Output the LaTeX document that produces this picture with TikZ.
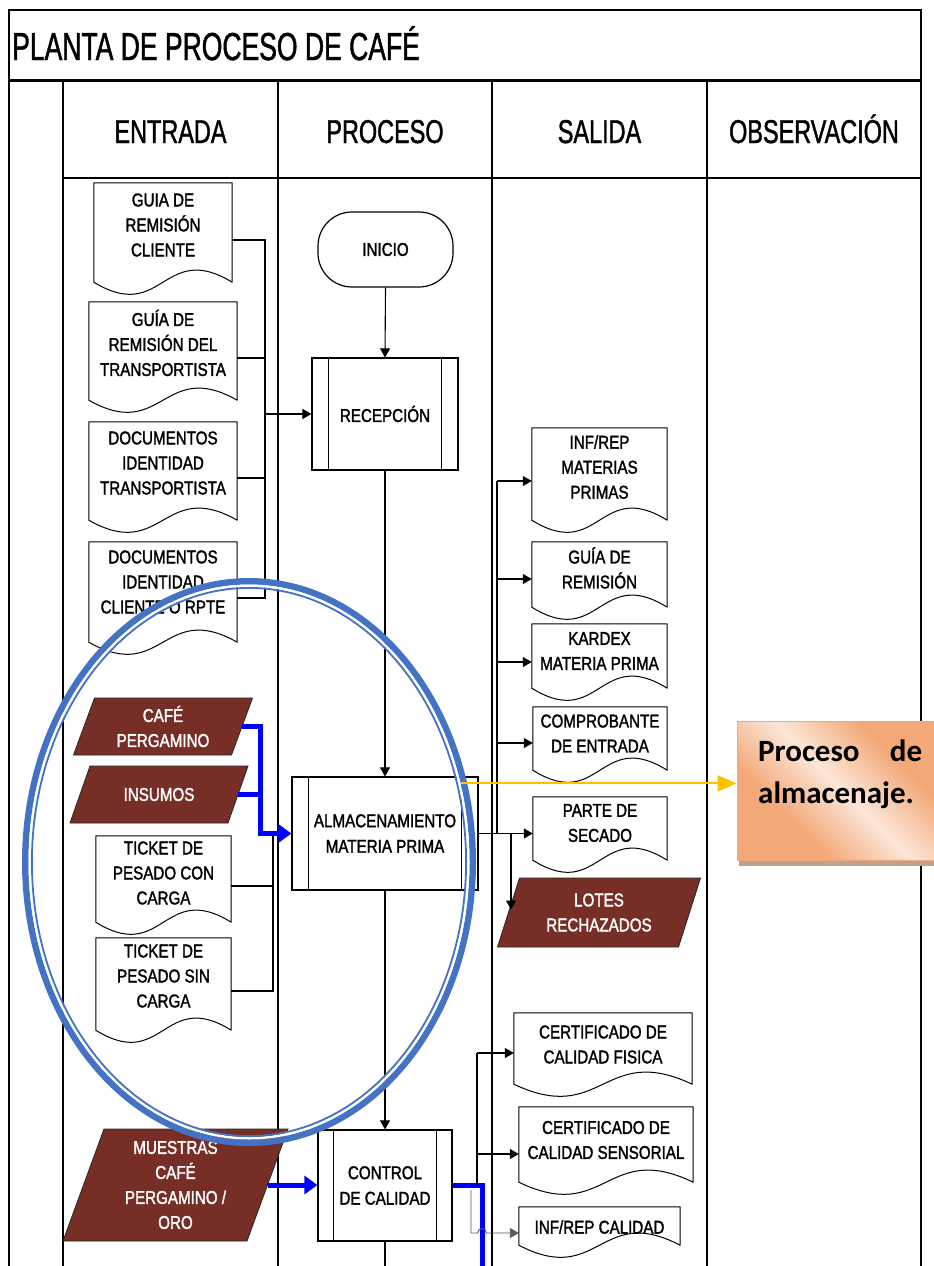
\documentclass[tikz,border=0pt]{standalone}
\usepackage{fontspec}
\setmainfont{Liberation Sans}
\newfontfamily\bodyfont{Liberation Sans}[FakeStretch=0.82,FakeBold=1.6]
\newfontfamily\headfont{Liberation Sans}[FakeStretch=0.71,FakeBold=1.2]
\newfontfamily\titlefont{Liberation Sans}[FakeStretch=0.68,FakeBold=1.2]
\newfontfamily\notefont{Carlito}
\usetikzlibrary{arrows.meta,calc,shadows}

\definecolor{paracol}{HTML}{772E26}
\definecolor{flowblue}{HTML}{0000FF}
\definecolor{ringblue}{HTML}{4472C4}
\definecolor{notegold}{HTML}{FFC000}
\definecolor{noteedge}{HTML}{F2A877}
\definecolor{notelight}{HTML}{FCE6D8}
\definecolor{noteshadow}{HTML}{BFA18E}

% diagonal fill of the note: orange corners, light band through the middle
\pgfdeclareverticalshading{notefill}{100bp}{color(0bp)=(noteedge); color(33bp)=(noteedge);
  color(50bp)=(notelight); color(67bp)=(noteedge); color(100bp)=(noteedge)}

\tikzset{
  tableline/.style={line width=1.2pt, draw=black},
  docline/.style={line width=1pt, draw=black, line join=round},
  docbody/.style={draw=none, inner sep=0pt},
  doctext/.style={font=\bodyfont\fontsize{18.5}{25}\selectfont, align=center, inner sep=0pt},
  parashape/.style={fill=paracol, draw=black!85, line width=0.8pt},
  paratext/.style={font=\bodyfont\fontsize{18.5}{25}\selectfont, text=white, align=center, inner sep=0pt},
  procbox/.style={draw=black, line width=1.2pt, inner sep=0pt, align=center,
                  font=\bodyfont\fontsize{18.5}{25.5}\selectfont},
  wire/.style={line width=1.1pt, draw=black},
  wirearrow/.style={wire, -{Triangle[length=9pt,width=10pt]}},
  blueline/.style={draw=flowblue, line width=5pt},
  bluearrow/.style={blueline, -{Triangle[length=13pt,width=18pt]}},
  goldarrow/.style={draw=notegold, line width=2pt, -{Triangle[length=19pt,width=16pt]}},
  hd/.style={anchor=base, inner sep=0pt, font=\headfont\fontsize{33}{36}\selectfont},
  notebox/.style={draw=noteedge, line width=1pt, shading=notefill, shading angle=-45,
                  drop shadow={shadow xshift=2pt, shadow yshift=-6pt, fill=noteshadow, opacity=1}},
  notetext/.style={font=\notefont\bfseries\fontsize{31}{42}\selectfont, text width=164pt,
                   align=justify, inner sep=0pt},
}

% document symbol: name, left x, top y, width, body height, text centre y, text
\newcommand\docnode[7]{%
  \node[docbody, minimum width=#4pt, minimum height=#5pt] (#1) at ({#2+#4/2},{#3+#5/2}) {};
  \draw[docline] (#1.south west) -- (#1.north west) -- (#1.north east) -- (#1.south east)
    .. controls ($(#1.south)+(0,-42)$) and ($(#1.south)+(0,42)$) .. (#1.south west) -- cycle;
  \node[doctext] (#1-t) at ({#2+#4/2},#6) {#7};
}
% data symbol (parallelogram): name, centre x, centre y, width, height, slant, text
\newcommand\paranode[7]{%
  \filldraw[parashape] ({#2-#4/2+#6/2},{#3-#5/2}) -- ({#2+#4/2+#6/2},{#3-#5/2})
    -- ({#2+#4/2-#6/2},{#3+#5/2}) -- ({#2-#4/2-#6/2},{#3+#5/2}) -- cycle;
  \node[paratext, minimum width=#4pt, minimum height=#5pt] (#1) at (#2,#3) {#7};
}
% predefined process box: name, centre x, centre y, width, height, side inset, text
\newcommand\procnode[7]{%
  \node[procbox, minimum width=#4pt, minimum height=#5pt] (#1) at (#2,#3) {#7};
  \draw[tableline] ([xshift=#6pt]#1.north west) -- ([xshift=#6pt]#1.south west);
  \draw[tableline] ([xshift=-#6pt]#1.north east) -- ([xshift=-#6pt]#1.south east);
}

\begin{document}
\begin{tikzpicture}[x=1pt,y=-1pt]
\useasboundingbox (0,0) rectangle (934,1266);
\clip (0,0) rectangle (934,1266);
\fill[white] (0,0) rectangle (934,1266);

% ---- table frame ----
\draw[tableline] (9,1266) -- (9,10) -- (921,10) -- (921,1266);
\draw[black, line width=3pt] (9,80) -- (921,80);
\foreach \cx in {63,278,492,707} \draw[tableline] (\cx,81) -- (\cx,1266);
\draw[tableline] (63,178) -- (921,178);

\node[anchor=base west, inner sep=0pt, font=\titlefont\fontsize{39}{42}\selectfont]
  (title) at (12,60) {PLANTA DE PROCESO DE CAFÉ};
\node[hd] (h-in)   at (170.5,143) {ENTRADA};
\node[hd] (h-proc) at (385,143)   {PROCESO};
\node[hd] (h-out)  at (599.5,143) {SALIDA};
\node[hd] (h-obs)  at (814,143)   {OBSERVACIÓN};

% ---- inputs ----
\docnode{g1}{94}{183}{138}{99}{225}{GUIA DE\\REMISIÓN\\CLIENTE}
\docnode{g2}{89}{302}{148}{98}{343}{GUÍA DE\\REMISIÓN DEL\\TRANSPORTISTA}
\docnode{g3}{89}{422}{148}{98}{463}{DOCUMENTOS\\IDENTIDAD\\TRANSPORTISTA}
\docnode{g4}{89}{542}{148}{100}{582}{DOCUMENTOS\\IDENTIDAD\\CLIENTE O RPTE}
\paranode{cafe}{163}{726.5}{158}{57}{21}{CAFÉ\\PERGAMINO}
\paranode{insumos}{159}{794.5}{158}{57}{20}{INSUMOS}
\docnode{t1}{96}{836}{135}{86}{873}{TICKET DE\\PESADO CON\\CARGA}
\docnode{t2}{96}{938}{135}{92}{976}{TICKET DE\\PESADO SIN\\CARGA}
\paranode{muestras}{175.5}{1185}{184}{112}{41}{MUESTRAS\\CAFÉ\\PERGAMINO /\\ORO}

% ---- process ----
\node[draw=black, line width=1.2pt, rounded corners=34pt, minimum width=135pt, minimum height=75pt,
      font=\bodyfont\fontsize{18.5}{25}\selectfont] (inicio) at (385.5,249.5) {INICIO};
\procnode{rec}{385}{414}{146}{112}{17}{RECEPCIÓN}
\procnode{alm}{385}{833.5}{186}{113}{17}{ALMACENAMIENTO\\MATERIA PRIMA}
\procnode{cc}{385}{1185.5}{134}{111}{16}{CONTROL\\DE CALIDAD}

% ---- outputs ----
\docnode{s1}{532}{428}{135}{92}{467}{INF/REP\\MATERIAS\\PRIMAS}
\docnode{s2}{532}{542}{135}{65}{568}{GUÍA DE\\REMISIÓN}
\docnode{s3}{532}{624}{135}{64}{651}{KARDEX\\MATERIA PRIMA}
\docnode{s4}{533}{707}{134}{63}{733.5}{COMPROBANTE\\DE ENTRADA}
\docnode{s5}{533}{797}{134}{63}{823}{PARTE DE\\SECADO}
\paranode{lotes}{599}{912.5}{181}{69}{22}{LOTES\\RECHAZADOS}
\docnode{c1}{514}{1013}{178}{71}{1044.5}{CERTIFICADO DE\\CALIDAD FISICA}
\docnode{c2}{519}{1107}{174}{75}{1140}{CERTIFICADO DE\\CALIDAD SENSORIAL}
\docnode{c3}{519}{1207}{161}{38}{1227}{INF/REP CALIDAD}

% ---- connectors: reception documents ----
\coordinate (busA) at (265,240);
\coordinate (busB) at (265,598);
\draw[wire] ([yshift=-7.5pt]g1.east) -- (busA) -- (busB) -- ([yshift=-6pt]g4.east);
\draw[wire] ([yshift=-7pt]g2.east) -- ([yshift=-7pt]g2.east -| busA);
\draw[wire] ([yshift=-7pt]g3.east) -- ([yshift=-7pt]g3.east -| busA);
\draw[wirearrow] (rec.west -| busA) -- (rec.west);

% ---- main flow ----
\coordinate (procEnd) at (385,1266);
\draw[wirearrow] (inicio.south) -- (rec.north);
\draw[wirearrow] (rec.south) -- (alm.north);
\draw[wirearrow] (alm.south) -- (cc.north);
\draw[wire] (cc.south) -- (procEnd);

% ---- storage inputs ----
\coordinate (busT) at (273,833.5);
\draw[wire] (busT) -- ([yshift=-7pt]t2.east -| busT) -- ([yshift=-7pt]t2.east);
\draw[wire] ([yshift=-7pt]t1.east) -- ([yshift=-7pt]t1.east -| busT);
\coordinate (bj) at (260,833.5);
\draw[blueline] (insumos.east) -- (insumos.east -| bj);
\draw[bluearrow, line join=miter] (cafe.east) -| (bj) -- (alm.west);

% ---- storage outputs ----
\coordinate (sb) at (497,833.5);
\draw[wire] ([yshift=-7pt]s1.west -| sb) -- (sb);
\draw[wirearrow] ([yshift=-7pt]s1.west -| sb) -- ([yshift=-7pt]s1.west);
\draw[wirearrow] ([yshift=-4.5pt]s2.west -| sb) -- ([yshift=-4.5pt]s2.west);
\draw[wirearrow] ([yshift=-6pt]s3.west -| sb) -- ([yshift=-6pt]s3.west);
\draw[wirearrow] ([yshift=-4.5pt]s4.west -| sb) -- ([yshift=-4.5pt]s4.west);
\draw[wirearrow] (alm.east) -- (alm.east -| s5.west);
\coordinate (lj) at (511,833.5);
\draw[wirearrow] (lj) -- ([yshift=3pt]lotes.west -| lj);

% ---- quality control ----
\draw[bluearrow] (muestras.east) -- (muestras.east -| cc.west);
\coordinate (bb) at (482,1266);
\draw[blueline, line join=miter] (cc.east) -| (bb);
\coordinate (cbus) at (477,1186);
\draw[wire] ([yshift=-4.5pt]c1.west -| cbus) -- (cbus);
\draw[wirearrow] ([yshift=-4.5pt]c1.west -| cbus) -- ([yshift=-4.5pt]c1.west);
\draw[wirearrow] ([yshift=-9.5pt]c2.west -| cbus) -- ([yshift=-9.5pt]c2.west);
\draw[wire, draw=black!65, line width=0.9pt, -{Triangle[length=9pt,width=10pt]}]
  ($(cbus)+(-6,4)$) -- ($(cbus)+(-6,47)$) -- ($(cbus)+(0.5,47)$)
  arc[start angle=180, end angle=0, radius=4.5pt] -- ([yshift=-7pt]c3.west);

% ---- highlight ring ----
\coordinate (ring) at (249,862);
\draw[ringblue, line width=6.5pt] (ring) ellipse[x radius=223.75pt, y radius=280.75pt];
\draw[white, line width=2.5pt] (ring) ellipse[x radius=219.25pt, y radius=276.25pt];
\draw[ringblue, line width=1.8pt] (ring) ellipse[x radius=217.1pt, y radius=274.1pt];

% ---- note ----
\node[notebox, minimum width=213pt, minimum height=139pt] (note) at (843.5,790.5) {};
\node[notetext, anchor=north west] (note-t) at (758,740) {Proceso de almacenaje.};
\coordinate (gstart) at ($(alm.north east)+(-18,7)$);
\draw[goldarrow] (gstart) -- (gstart -| note.west);
\end{tikzpicture}
\end{document}
